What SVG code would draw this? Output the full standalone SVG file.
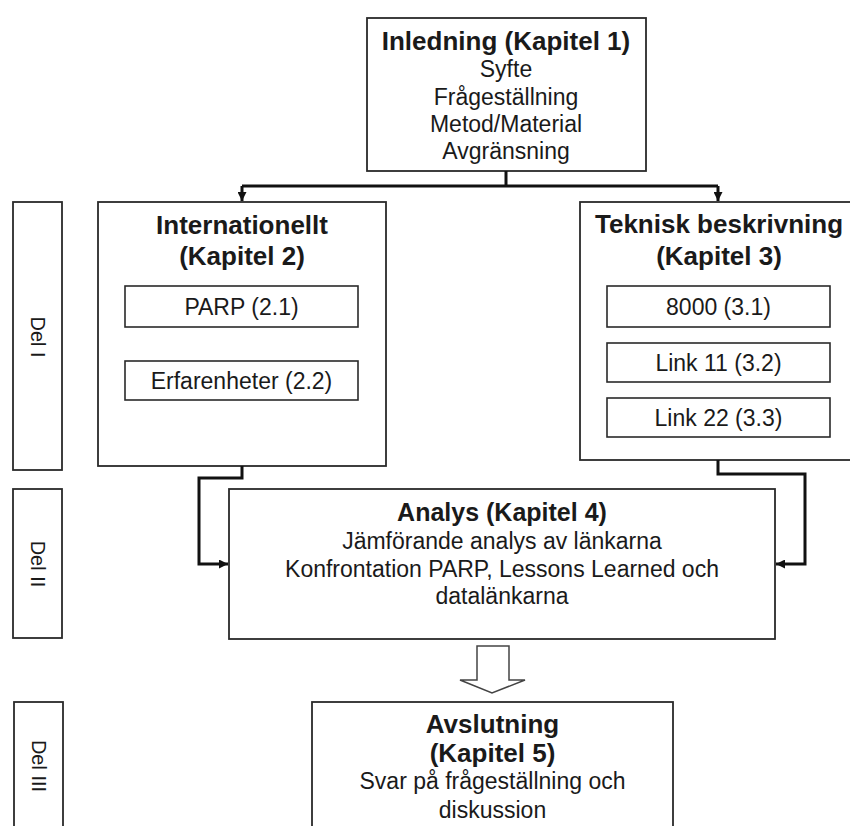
<svg xmlns="http://www.w3.org/2000/svg" width="850" height="826" viewBox="0 0 850 826">
  <style>
    .box { fill: #ffffff; stroke: #2a2a2a; stroke-width: 1.8; }
    .sub { fill: #ffffff; stroke: #2a2a2a; stroke-width: 1.6; }
    .t { font-family: "Liberation Sans", Arial, sans-serif; fill: #1a1a1a; text-anchor: middle; }
    .h { font-size: 26px; font-weight: bold; }
    .r { font-size: 23px; }
    .del { font-size: 20px; }
    .wire { fill: none; stroke: #111111; stroke-width: 3; }
  </style>
  <defs>
    <marker id="tip" viewBox="0 0 10 10" refX="10" refY="5" markerWidth="3" markerHeight="3" orient="auto" markerUnits="strokeWidth">
      <path d="M0,0 L10,5 L0,10 Z" fill="#111111"/>
    </marker>
  </defs>
  <rect width="850" height="826" fill="#ffffff"/>

  <!-- part labels -->
  <g id="del1">
    <rect class="box" x="13" y="202" width="49" height="268"/>
    <text class="t del" transform="translate(31,337) rotate(90)">Del I</text>
  </g>
  <g id="del2">
    <rect class="box" x="13" y="489" width="49" height="149"/>
    <text class="t del" transform="translate(31,564) rotate(90)">Del II</text>
  </g>
  <g id="del3">
    <rect class="box" x="14" y="702" width="49" height="140"/>
    <text class="t del" transform="translate(32,766) rotate(90)">Del III</text>
  </g>

  <!-- chapter 1 -->
  <g id="kap1">
    <rect class="box" x="367" y="18" width="279" height="153"/>
    <text class="t h" x="506" y="50">Inledning (Kapitel 1)</text>
    <text class="t r" x="506" y="77">Syfte</text>
    <text class="t r" x="506" y="104.5">Frågeställning</text>
    <text class="t r" x="506" y="132">Metod/Material</text>
    <text class="t r" x="506" y="159">Avgränsning</text>
  </g>

  <!-- chapter 2 -->
  <g id="kap2">
    <rect class="box" x="98" y="202" width="288" height="264"/>
    <text class="t h" x="242" y="234">Internationellt</text>
    <text class="t h" x="242" y="265">(Kapitel 2)</text>
    <rect class="sub" x="125" y="286" width="233" height="41"/>
    <text class="t r" x="241.5" y="315">PARP (2.1)</text>
    <rect class="sub" x="125" y="361" width="233" height="39"/>
    <text class="t r" x="241.5" y="389">Erfarenheter (2.2)</text>
  </g>

  <!-- chapter 3 -->
  <g id="kap3">
    <rect class="box" x="580" y="202" width="278" height="258"/>
    <text class="t h" x="719" y="233">Teknisk beskrivning</text>
    <text class="t h" x="719" y="265">(Kapitel 3)</text>
    <rect class="sub" x="607" y="286" width="223" height="41"/>
    <text class="t r" x="718.5" y="315">8000 (3.1)</text>
    <rect class="sub" x="607" y="343" width="223" height="39"/>
    <text class="t r" x="718.5" y="371">Link 11 (3.2)</text>
    <rect class="sub" x="607" y="398" width="223" height="39"/>
    <text class="t r" x="718.5" y="426">Link 22 (3.3)</text>
  </g>

  <!-- chapter 4 -->
  <g id="kap4">
    <rect class="box" x="229" y="489" width="546" height="150"/>
    <text class="t h" x="502" y="521" style="font-size:25px">Analys (Kapitel 4)</text>
    <text class="t r" x="502" y="549">Jämförande analys av länkarna</text>
    <text class="t r" x="502" y="577">Konfrontation PARP, Lessons Learned och</text>
    <text class="t r" x="502" y="604">datalänkarna</text>
  </g>

  <!-- chapter 5 -->
  <g id="kap5">
    <rect class="box" x="312" y="702" width="361" height="140"/>
    <text class="t h" x="492.5" y="733">Avslutning</text>
    <text class="t h" x="492.5" y="762">(Kapitel 5)</text>
    <text class="t r" x="492.5" y="789">Svar på frågeställning och</text>
    <text class="t r" x="492.5" y="818">diskussion</text>
  </g>

  <!-- connectors -->
  <g id="connectors">
    <path class="wire" d="M506,171 V186"/>
    <path class="wire" d="M242,186 H718"/>
    <path class="wire" d="M242,186 V201" marker-end="url(#tip)"/>
    <path class="wire" d="M718,186 V201" marker-end="url(#tip)"/>
    <path class="wire" d="M242,466 V478 H199 V564 H228" marker-end="url(#tip)"/>
    <path class="wire" d="M718,460 V474 H805 V564 H776" marker-end="url(#tip)"/>
    <path d="M477,646 H509 V680 H525 L492,693 L460,680 H477 Z" fill="#ffffff" stroke="#444444" stroke-width="1.5" stroke-linejoin="miter"/>
  </g>
</svg>
